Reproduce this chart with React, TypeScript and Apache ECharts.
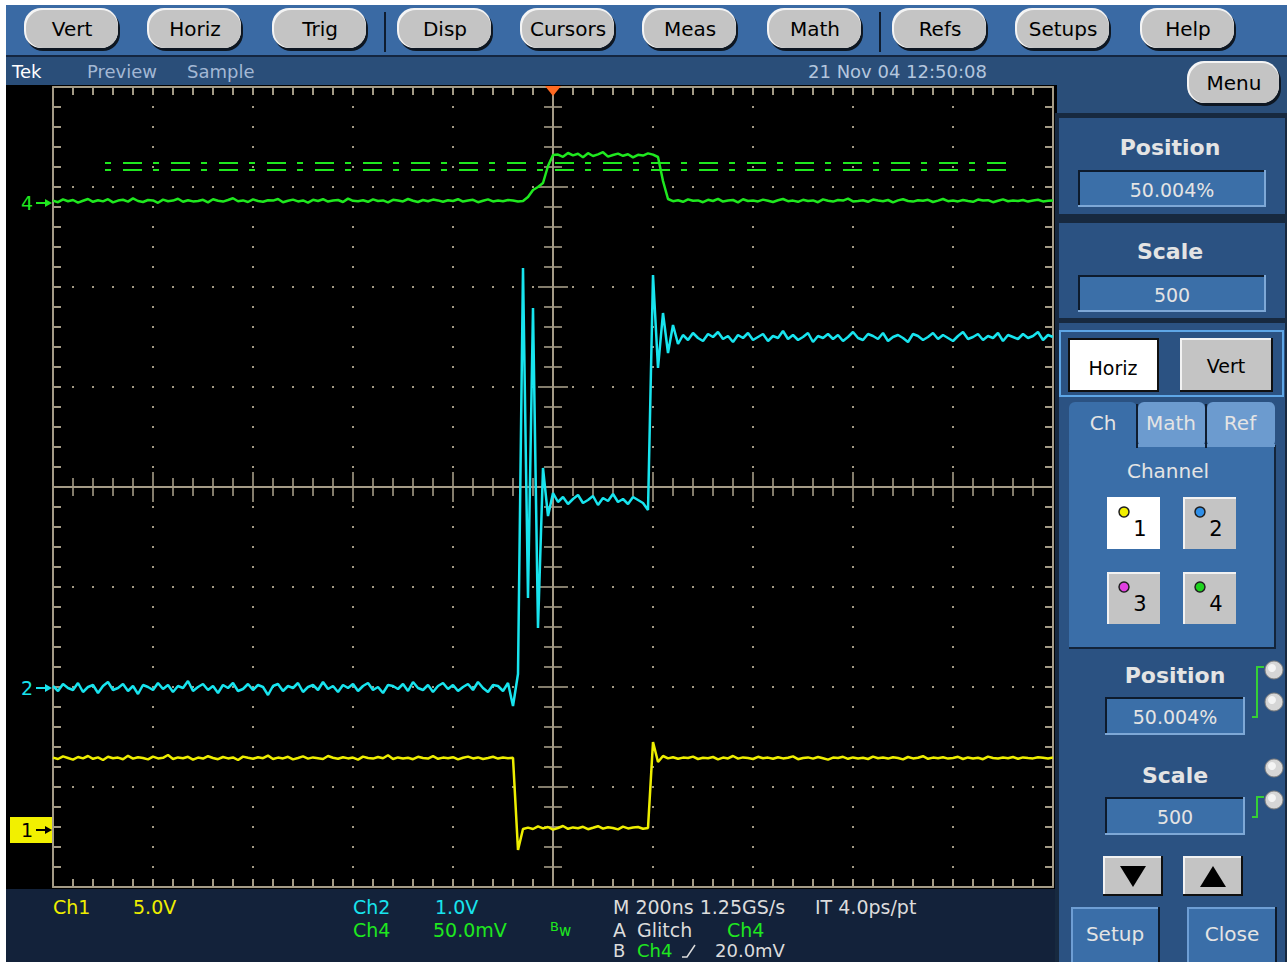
import React, { useEffect, useRef } from "react";
import * as echarts from "echarts";

// ---- Acquisition (M 200ns/div, 10 divisions, one sample shown every 10 ns) ----
const SAMPLE_START_NS = -1000;
const SAMPLE_STEP_NS = 10;
const TIME_RANGE_NS = [-1000, 1000];
const VERT_RANGE_DIV = [-4, 4];

// Channel settings: volts (or mV) per division and ground-marker offset in divisions
const CH_NAMES = ["Ch1", "Ch2", "Ch4"];
const CH_SCALES = [5.0, 1.0, 50.0];
const CH_OFFSETS_DIV = [-3.43, -2.01, 2.84];
const CH_COLORS = ["#eeee00", "#18e4ee", "#1fe81f"];

// Ch1 (V)
const CH1_V = [
  3.62, 3.55, 3.68, 3.6, 3.52, 3.65, 3.58, 3.7, 3.56, 3.63,
  3.5, 3.66, 3.59, 3.62, 3.54, 3.71, 3.57, 3.64, 3.6, 3.53,
  3.67, 3.58, 3.61, 3.75, 3.55, 3.63, 3.59, 3.66, 3.52, 3.62,
  3.57, 3.69, 3.6, 3.54, 3.65, 3.58, 3.63, 3.5, 3.67, 3.61,
  3.56, 3.64, 3.59, 3.72, 3.55, 3.62, 3.58, 3.66, 3.53, 3.6,
  3.68, 3.57, 3.63, 3.59, 3.55, 3.7, 3.61, 3.56, 3.64, 3.58,
  3.62, 3.52, 3.67, 3.6, 3.57, 3.65, 3.59, 3.74, 3.55, 3.63,
  3.58, 3.61, 3.54, 3.66, 3.6, 3.57, 3.69, 3.56, 3.62, 3.59,
  3.64, 3.53, 3.61, 3.67, 3.58, 3.63, 3.55, 3.6, 3.66, 3.57,
  3.62, 3.59, 3.61,
  -1.0, 0.05,
  0.12, 0.05, 0.18, 0.08, 0.15, 0.02, 0.1, 0.2, 0.06, 0.13,
  0.09, 0.16, 0.04, 0.11, 0.19, 0.07, 0.14, 0.1, 0.03, 0.17,
  0.08, 0.12, 0.15, 0.06, 0.1,
  4.4, 3.4, 3.7,
  3.58, 3.64, 3.56, 3.62, 3.6, 3.67, 3.55, 3.61, 3.59, 3.65,
  3.53, 3.62, 3.58, 3.7, 3.57, 3.63, 3.6, 3.55, 3.66, 3.59,
  3.62, 3.56, 3.64, 3.58, 3.61, 3.68, 3.54, 3.6, 3.63, 3.57,
  3.65, 3.59, 3.52, 3.62, 3.6, 3.66, 3.56, 3.63, 3.58, 3.61,
  3.55, 3.67, 3.59, 3.62, 3.57, 3.64, 3.6, 3.53, 3.65, 3.58,
  3.61, 3.69, 3.56, 3.62, 3.59, 3.64, 3.57, 3.6, 3.66, 3.55,
  3.63, 3.58, 3.61, 3.54, 3.67, 3.6, 3.57, 3.62, 3.59, 3.65,
  3.56, 3.63, 3.6, 3.58, 3.64, 3.61, 3.57, 3.62,
];

// Ch2 (V)
const CH2_V = [
  0.02, -0.03, 0.04, 0.0, -0.02, 0.05, -0.04, 0.01, 0.03, -0.05,
  0.02, 0.06, -0.02, 0.0, 0.04, -0.03, 0.02, -0.06, 0.03, 0.01,
  -0.02, 0.05, -0.01, 0.03, -0.04, 0.02, 0.0, 0.07, -0.03, 0.01,
  0.04, -0.02, 0.02, -0.05, 0.03, 0.0, 0.05, -0.03, -0.01, 0.04,
  -0.02, 0.03, 0.01, -0.07, 0.02, 0.04, -0.03, 0.02, 0.0, 0.05,
  -0.04, 0.01, 0.03, -0.02, 0.06, -0.01, 0.02, -0.04, 0.03, 0.0,
  0.04, -0.03, 0.02, 0.05, -0.02, 0.01, -0.05, 0.03, 0.02, -0.01,
  0.04, -0.03, 0.06, 0.0, -0.02, 0.03, -0.04, 0.02, 0.05, -0.01,
  0.03, -0.03, 0.01, 0.04, -0.02, 0.06, 0.0, -0.04, 0.03, 0.02,
  -0.03, 0.05,
  -0.18, 0.14, 4.2, 0.9, 3.8, 0.6, 2.2, 1.72, 1.95,
  1.86, 1.91, 1.84, 1.89, 1.93, 1.85, 1.88, 1.92, 1.83, 1.9,
  1.87, 1.94, 1.86, 1.89, 1.84, 1.91, 1.88, 1.85, 1.78,
  4.13, 3.2, 3.75, 3.35, 3.63, 3.44,
  3.53, 3.48, 3.55, 3.5, 3.47, 3.54, 3.51, 3.56, 3.49, 3.52,
  3.46, 3.53, 3.5, 3.55, 3.48, 3.51, 3.54, 3.47, 3.52, 3.5,
  3.57, 3.49, 3.53, 3.48, 3.51, 3.55, 3.46, 3.52, 3.5, 3.54,
  3.49, 3.53, 3.47, 3.51, 3.56, 3.5, 3.48, 3.54, 3.52, 3.49,
  3.55, 3.47, 3.51, 3.53, 3.5, 3.46, 3.54, 3.52, 3.48, 3.51,
  3.55, 3.49, 3.53, 3.5, 3.47, 3.52, 3.56, 3.49, 3.51, 3.54,
  3.48, 3.52, 3.5, 3.55, 3.47, 3.53, 3.51, 3.49, 3.54, 3.5,
  3.52, 3.56, 3.48, 3.53, 3.51,
];

// Ch4 (mV)
const CH4_MV = [
  1.2, 0.4, 1.8, 0.9, 1.5, 0.2, 1.1, 2.0, 0.6, 1.4,
  0.8, 1.9, 0.3, 1.2, 1.6, 0.7, 2.3, 1.0, 0.5, 1.5,
  1.3, 0.1, 1.7, 0.9, 1.2, 2.1, 0.6, 1.4, 0.8, 1.0,
  1.6, 0.3, 1.9, 1.1, 0.7, 1.5, 2.4, 0.9, 1.3, 0.5,
  1.8, 1.0, 0.6, 1.4, 1.2, 2.0, 0.4, 1.1, 1.7, 0.8,
  1.3, 0.2, 1.6, 1.0, 1.9, 0.7, 1.2, 1.5, 0.5, 2.2,
  1.1, 0.9, 1.4, 0.6, 1.8, 1.0, 1.3, 0.3, 1.6, 1.2,
  0.8, 2.0, 1.1, 0.5, 1.5, 0.9, 1.7, 1.3, 0.6, 1.4,
  1.0, 1.9, 0.7, 1.2, 1.6, 0.4, 1.1, 1.8, 0.8, 1.3,
  0.9, 1.5, 1.2, 0.7,
  1.0, 3.0, 6.5, 8.0, 10.0, 18.5, 24.0,
  24.2, 23.1, 25.0, 23.8, 24.6, 22.9, 24.9, 23.5, 24.3, 25.4,
  23.2, 24.0, 24.7, 23.6, 24.4, 22.8, 24.1, 23.7, 24.8, 24.2,
  23.0, 11.0, 2.0,
  0.9, 1.4, 0.6, 1.8, 1.1, 1.3, 0.4, 1.6, 1.0, 2.1,
  0.7, 1.2, 1.5, 0.3, 1.9, 1.0, 1.3, 0.8, 1.7, 1.1,
  0.5, 1.4, 2.0, 0.9, 1.2, 0.6, 1.6, 1.0, 1.3, 0.4,
  1.8, 1.1, 0.7, 1.5, 1.2, 2.2, 0.8, 1.0, 1.4, 0.6,
  1.7, 1.2, 0.9, 1.5, 0.3, 1.3, 1.9, 1.0, 0.7, 1.4,
  1.1, 1.6, 0.5, 1.2, 2.0, 0.9, 1.3, 0.8, 1.5, 1.0,
  0.6, 1.7, 1.2, 1.4, 0.4, 1.1, 1.8, 0.9, 1.3, 1.0,
  1.5, 0.7, 1.2, 1.6, 0.8, 1.1, 1.3,
];

// Glitch trigger thresholds on Ch4 (mV) and the span they are drawn over (ns)
const TRIGGER_LEVELS_MV = [20.0, 16.5];
const TRIGGER_SPAN_NS = [-896, 914];

// Text content
const TOOLBAR_LABELS = ["Vert", "Horiz", "Trig", "Disp", "Cursors", "Meas", "Math", "Refs", "Setups", "Help"];
const STATUS_TEXT = ["Tek", "Preview", "Sample"];
const DATE_TEXT = "21 Nov 04 12:50:08";

const FONT = "'DejaVu Sans', Verdana, sans-serif";
const TAN = "#a49b86";

function buildGraphic() {
  const els: any[] = [];
  const rect = (x: number, y: number, w: number, h: number, fill: string, z = -10, r = 0, stroke?: string, lw = 0) =>
    els.push({ type: "rect", silent: true, z, shape: { x, y, width: w, height: h, r }, style: { fill, stroke: stroke || null, lineWidth: lw } });
  const text = (x: number, y: number, s: string, fill: string, size = 19, align = "left", weight = "normal", z = 30) =>
    els.push({
      type: "text", silent: true, z, x, y,
      style: { text: s, fill, font: `${weight} ${size}px ${FONT}`, align, verticalAlign: "middle", textAlign: align, textVerticalAlign: "middle" },
    });
  const poly = (pts: number[][], fill: string, z = 30) => els.push({ type: "polygon", silent: true, z, shape: { points: pts }, style: { fill } });
  const pline = (pts: number[][], stroke: string, lw = 2, z = 30) =>
    els.push({ type: "polyline", silent: true, z, shape: { points: pts }, style: { stroke, lineWidth: lw, fill: null } });

  // Backgrounds
  rect(6, 5, 1281, 50, "#3a6aa4");
  rect(6, 55, 1281, 2, "#142640");
  rect(6, 57, 1051, 28, "#2a4e79");
  rect(1055, 57, 232, 56, "#2a4e79");
  rect(6, 85, 1051, 804, "#000000");
  rect(6, 889, 1051, 73, "#13223a");
  rect(1055, 113, 232, 849, "#17293f");
  rect(1059, 118, 226, 96, "#2b5282");
  rect(1059, 223, 226, 95, "#2b5282");
  rect(1059, 323, 226, 639, "#2b5282");

  // Oval toolbar buttons
  const pill = (cx: number, cy: number, w: number, h: number, label: string) => {
    const x = cx - w / 2, y = cy - h / 2, r = 17;
    rect(x + 1, y + 2, w, h, "#0e1722", 10, r);
    rect(x - 1, y - 1, w, h, "#f4f4f4", 11, r);
    rect(x + 1, y + 1, w - 2, h - 2, "#c4c4c4", 12, r);
    text(cx, cy, label, "#000000", 20, "center", "normal", 13);
  };
  const centers = [72, 195, 320, 445, 568, 690, 815, 940, 1063, 1188];
  TOOLBAR_LABELS.forEach((l, i) => pill(centers[i], 29, 94, 40, l));
  rect(384, 12, 2, 40, "#0f1d30", 5);
  rect(879, 12, 2, 40, "#0f1d30", 5);
  pill(1234, 83, 92, 42, "Menu");

  // Status bar
  text(12, 71, STATUS_TEXT[0], "#ffffff", 18);
  text(87, 71, STATUS_TEXT[1], "#a3b8d4", 18);
  text(187, 71, STATUS_TEXT[2], "#a3b8d4", 18);
  text(808, 71, DATE_TEXT, "#b4c6de", 18);

  // Trigger position marker
  poly([[545, 86], [561, 86], [553, 96]], "#ff6a22", 40);

  // Channel ground markers
  const markerY = (off: number) => 87 + (4 - off) * 100;
  const arrow = (y: number, color: string) => {
    pline([[36, y], [47, y]], color, 2, 40);
    poly([[45, y - 4], [52, y], [45, y + 4]], color, 40);
  };
  const y4 = markerY(CH_OFFSETS_DIV[2]);
  text(27, y4, "4", CH_COLORS[2], 19, "center", "normal", 40);
  arrow(y4, CH_COLORS[2]);
  const y2 = markerY(CH_OFFSETS_DIV[1]);
  text(27, y2, "2", CH_COLORS[1], 19, "center", "normal", 40);
  arrow(y2, CH_COLORS[1]);
  const y1 = markerY(CH_OFFSETS_DIV[0]);
  rect(10, y1 - 13, 42, 26, "#f2f000", 39);
  text(27, y1, "1", "#000000", 19, "center", "normal", 40);
  arrow(y1, "#000000");

  // Bottom readouts
  const W = "#dcdcdc";
  text(53, 907, "Ch1", CH_COLORS[0]);
  text(133, 907, "5.0V", CH_COLORS[0]);
  text(353, 907, "Ch2", CH_COLORS[1]);
  text(435, 907, "1.0V", CH_COLORS[1]);
  text(353, 930, "Ch4", CH_COLORS[2]);
  text(433, 930, "50.0mV", CH_COLORS[2]);
  text(550, 926, "B", CH_COLORS[2], 13);
  text(559, 931, "w", CH_COLORS[2], 15);
  text(613, 907, "M 200ns 1.25GS/s", W);
  text(815, 907, "IT 4.0ps/pt", W);
  text(613, 930, "A", W);
  text(637, 930, "Glitch", W);
  text(727, 930, "Ch4", CH_COLORS[2]);
  text(613, 950, "B", W, 18);
  text(637, 950, "Ch4", CH_COLORS[2], 18);
  pline([[682, 957], [687, 957], [695, 945]], W, 1.5);
  text(715, 950, "20.0mV", W, 18);

  // Right panel
  const PW = "#e4e4e4";
  const sunken = (x: number, y: number, w: number, h: number, label: string) => {
    rect(x, y, w, h, "#7ea8d6", 20);
    rect(x, y, w - 2, h - 2, "#0d1b2d", 21);
    rect(x + 2, y + 2, w - 4, h - 4, "#3b6fa8", 22);
    text(x + w / 2, y + h / 2 + 1, label, PW, 19, "center", "normal", 23);
  };
  const raised = (x: number, y: number, w: number, h: number, fill: string, light: string, dark: string) => {
    rect(x, y, w, h, dark, 20);
    rect(x, y, w - 2, h - 2, light, 21);
    rect(x + 2, y + 2, w - 4, h - 4, fill, 22);
  };

  text(1170, 147, "Position", PW, 22, "center", "bold");
  sunken(1078, 170, 188, 37, "50.004%");
  text(1170, 251, "Scale", PW, 22, "center", "bold");
  sunken(1078, 275, 188, 37, "500");

  rect(1060, 331, 223, 65, "#2b5282", 15, 0, "#5ea6e6", 2);
  raised(1068, 338, 91, 54, "#ffffff", "#ffffff", "#101010");
  rect(1068, 338, 89, 2, "#101010", 23);
  rect(1068, 338, 2, 52, "#101010", 23);
  text(1113, 368, "Horiz", "#000000", 19, "center", "normal", 24);
  raised(1180, 338, 93, 54, "#c4c4c4", "#f2f2f2", "#101010");
  text(1226, 366, "Vert", "#000000", 19, "center", "normal", 24);

  // Tabs
  rect(1069, 402, 68, 48, "#3a6ea8", 20, 6);
  rect(1138, 402, 67, 45, "#6c9bcf", 20, 6);
  rect(1207, 402, 68, 45, "#6c9bcf", 20, 6);
  rect(1136, 404, 2, 44, "#0f1d30", 25);
  rect(1205, 404, 2, 44, "#0f1d30", 25);
  rect(1069, 445, 207, 204, "#13243a", 19);
  rect(1069, 445, 205, 202, "#3a6ea8", 21);
  rect(1137, 444, 138, 3, "#6c9bcf", 21);
  text(1103, 423, "Ch", PW, 20, "center", "normal", 26);
  text(1171, 423, "Math", PW, 20, "center", "normal", 26);
  text(1240, 423, "Ref", PW, 20, "center", "normal", 26);
  text(1168, 471, "Channel", PW, 20, "center", "normal", 26);

  const chBtns = [
    [1107, 497, "#ffffff", "#f2f000", "1"],
    [1183, 497, "#c4c4c4", "#2f8fe8", "2"],
    [1107, 572, "#c4c4c4", "#e040e0", "3"],
    [1183, 572, "#c4c4c4", "#1ed21e", "4"],
  ] as any[];
  chBtns.forEach(([x, y, fill, dot, n]) => {
    raised(x, y, 55, 54, fill, fill === "#ffffff" ? "#ffffff" : "#f2f2f2", "#101010");
    els.push({ type: "circle", silent: true, z: 27, shape: { cx: x + 17, cy: y + 15, r: 5 }, style: { fill: dot, stroke: "#202020", lineWidth: 1.5 } });
    text(x + 33, y + 32, n, "#000000", 21, "center", "normal", 27);
  });

  text(1175, 675, "Position", PW, 22, "center", "bold");
  sunken(1105, 697, 140, 38, "50.004%");
  text(1175, 775, "Scale", PW, 22, "center", "bold");
  sunken(1105, 797, 140, 38, "500");

  pline([[1264, 667], [1257, 667], [1257, 717], [1252, 717]], "#35d035", 2);
  pline([[1264, 797], [1257, 797], [1257, 817], [1252, 817]], "#35d035", 2);
  [670, 702, 768, 800].forEach((cy) => {
    els.push({ type: "circle", silent: true, z: 27, shape: { cx: 1274, cy, r: 9 }, style: { fill: "#d6d6d6", stroke: "#7a7a7a", lineWidth: 1 } });
    els.push({ type: "circle", silent: true, z: 28, shape: { cx: 1272, cy: cy - 2, r: 4 }, style: { fill: "#f4f4f4" } });
  });

  raised(1103, 856, 60, 40, "#c4c4c4", "#f2f2f2", "#101010");
  raised(1183, 856, 60, 40, "#c4c4c4", "#f2f2f2", "#101010");
  poly([[1120, 866], [1146, 866], [1133, 887]], "#000000", 27);
  poly([[1200, 887], [1226, 887], [1213, 866]], "#000000", 27);

  raised(1071, 907, 89, 58, "#3a6ea8", "#6e9ed4", "#0e1a2a");
  raised(1187, 907, 90, 58, "#3a6ea8", "#6e9ed4", "#0e1a2a");
  text(1115, 934, "Setup", PW, 20, "center", "normal", 27);
  text(1232, 934, "Close", PW, 20, "center", "normal", 27);

  return els;
}

function toTrace(values: number[], ch: number) {
  return values.map((v, i) => [SAMPLE_START_NS + i * SAMPLE_STEP_NS, v / CH_SCALES[ch] + CH_OFFSETS_DIV[ch]]);
}

export default function App() {
  const ref = useRef<HTMLDivElement>(null);
  useEffect(() => {
    if (!ref.current) return;
    const chart = echarts.init(ref.current, null, { renderer: "svg" });

    const xAx = (position: string, split: boolean) => ({
      type: "value", min: TIME_RANGE_NS[0], max: TIME_RANGE_NS[1], interval: 200, position,
      axisLine: { show: true, onZero: false, lineStyle: { color: TAN, width: 2 } },
      axisTick: { show: true, inside: true, length: 8, lineStyle: { color: TAN, width: 2 } },
      minorTick: { show: true, splitNumber: 5, length: 8, lineStyle: { color: TAN, width: 2 } },
      axisLabel: { show: false },
      splitLine: { show: split, lineStyle: { color: TAN, width: 2, type: [2, 18], dashOffset: 1 } },
    });
    const yAx = (position: string, split: boolean) => ({
      type: "value", min: VERT_RANGE_DIV[0], max: VERT_RANGE_DIV[1], interval: 1, position,
      axisLine: { show: true, onZero: false, lineStyle: { color: TAN, width: 2 } },
      axisTick: { show: true, inside: true, length: 8, lineStyle: { color: TAN, width: 2 } },
      minorTick: { show: true, splitNumber: 5, length: 8, lineStyle: { color: TAN, width: 2 } },
      axisLabel: { show: false },
      splitLine: { show: split, lineStyle: { color: TAN, width: 2, type: [2, 18], dashOffset: 1 } },
    });

    const crossTicks: any[] = [];
    for (let t = -960; t <= 960; t += 40) {
      if (t !== 0) crossTicks.push({ value: [t, 0], symbolSize: [2, t % 200 === 0 ? 30 : 18] });
    }
    for (let k = -19; k <= 19; k++) {
      if (k !== 0) crossTicks.push({ value: [0, k * 0.2], symbolSize: [k % 5 === 0 ? 30 : 18, 2] });
    }

    const trig = TRIGGER_LEVELS_MV.map((lvl) => ({
      type: "line", silent: true, symbol: "none", z: 3,
      data: [[TRIGGER_SPAN_NS[0], lvl / CH_SCALES[2] + CH_OFFSETS_DIV[2]], [TRIGGER_SPAN_NS[1], lvl / CH_SCALES[2] + CH_OFFSETS_DIV[2]]],
      lineStyle: { color: CH_COLORS[2], width: 2, type: [6, 12, 19, 11] },
    }));

    const trace = (name: string, vals: number[], ch: number) => ({
      type: "line", name, silent: true, symbol: "none", showSymbol: false, z: 5,
      data: toTrace(vals, ch),
      lineStyle: { color: CH_COLORS[ch], width: 2.5 },
    });

    chart.setOption({
      animation: false,
      backgroundColor: "#ffffff",
      grid: { left: 53, top: 87, width: 1000, height: 800, show: false },
      xAxis: [xAx("bottom", true), xAx("top", false)],
      yAxis: [yAx("left", true), yAx("right", false)],
      series: [
        { type: "line", silent: true, symbol: "none", z: 1, data: [[TIME_RANGE_NS[0], 0], [TIME_RANGE_NS[1], 0]], lineStyle: { color: TAN, width: 2 } },
        { type: "line", silent: true, symbol: "none", z: 1, data: [[0, VERT_RANGE_DIV[0]], [0, VERT_RANGE_DIV[1]]], lineStyle: { color: TAN, width: 2 } },
        { type: "scatter", silent: true, symbol: "rect", z: 1, data: crossTicks, itemStyle: { color: TAN } },
        ...trig,
        trace(CH_NAMES[0], CH1_V, 0),
        trace(CH_NAMES[1], CH2_V, 1),
        trace(CH_NAMES[2], CH4_MV, 2),
      ],
      graphic: { elements: buildGraphic() },
    });
    return () => chart.dispose();
  }, []);
  return <div ref={ref} style={{ position: "fixed", left: 0, top: 0, width: 1287, height: 962 }} />;
}
